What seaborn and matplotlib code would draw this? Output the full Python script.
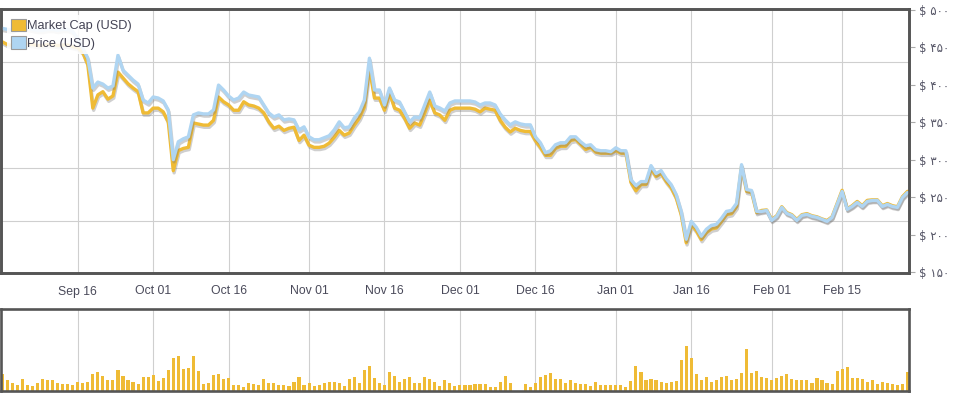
import numpy as np
import pandas as pd
import matplotlib
matplotlib.use("Agg")
import matplotlib.pyplot as plt
import matplotlib.dates as mdates
from matplotlib import patheffects as pe
from matplotlib.patches import Patch
import seaborn as sns

# ---------------- data ----------------
start_date = "2014-09-01"
n_days = 181

price_usd = [
    475.4, 474.1, 472.8, 476.8, 475.4, 475.4, 474.1, 472.8, 472.8, 474.1,
    474.1, 472.8, 474.1, 474.1, 471.4, 462.1, 448.9, 435.6, 395.7, 403.7,
    401.0, 395.7, 398.4, 439.6, 419.6, 413.0, 406.4, 401.0, 379.8, 375.8,
    383.8, 382.4, 378.5, 366.5, 300.1, 324.0, 328.0, 330.6, 359.9, 362.5,
    361.2, 361.2, 366.5, 399.7, 393.1, 385.1, 379.8, 382.4, 390.4, 386.4,
    385.1, 383.8, 373.1, 362.5, 357.2, 359.9, 353.2, 354.5, 353.2, 339.9,
    343.9, 330.6, 326.7, 326.7, 329.3, 332.0, 339.9, 350.6, 342.6, 343.9,
    355.9, 363.8, 379.8, 435.6, 393.1, 393.1, 373.1, 395.7, 379.8, 377.1,
    363.8, 350.6, 357.2, 355.9, 373.1, 390.4, 371.8, 369.1, 365.2, 375.8,
    378.5, 378.5, 378.5, 378.5, 377.1, 373.1, 375.8, 375.8, 373.1, 361.2,
    353.2, 346.6, 350.6, 347.9, 346.6, 346.6, 330.6, 322.7, 309.4, 312.0,
    320.0, 322.7, 322.7, 330.6, 330.6, 324.0, 318.7, 320.0, 313.4, 312.0,
    312.0, 310.7, 316.0, 312.0, 312.0, 273.5, 265.5, 270.8, 270.8, 292.1,
    281.5, 285.5, 274.8, 266.9, 253.6, 231.0, 193.8, 217.7, 209.7, 197.8,
    207.1, 212.4, 213.7, 221.7, 231.0, 232.3, 241.6, 293.4, 260.2, 258.9,
    231.0, 231.0, 232.3, 219.0, 224.4, 236.3, 228.3, 225.7, 219.0, 225.7,
    227.0, 224.4, 223.0, 220.4, 217.7, 223.0, 240.3, 257.6, 233.7, 237.6,
    243.0, 237.6, 244.3, 245.6, 245.6, 237.6, 240.3, 237.6, 236.3, 249.6,
    256.2,
]

market_cap_busd = [
    6.38, 6.33, 6.31, 6.36, 6.34, 6.34, 6.33, 6.31, 6.31, 6.33,
    6.33, 6.31, 6.32, 6.32, 6.29, 6.27, 6.18, 5.95, 5.13, 5.38,
    5.44, 5.30, 5.36, 5.81, 5.70, 5.59, 5.51, 5.44, 5.04, 5.04,
    5.13, 5.13, 5.06, 4.87, 3.95, 4.33, 4.37, 4.39, 4.85, 4.83,
    4.81, 4.81, 4.90, 5.34, 5.25, 5.19, 5.09, 5.09, 5.25, 5.19,
    5.17, 5.13, 5.04, 4.87, 4.75, 4.79, 4.71, 4.75, 4.77, 4.52,
    4.62, 4.43, 4.39, 4.39, 4.41, 4.47, 4.58, 4.71, 4.62, 4.66,
    4.81, 4.94, 5.15, 5.89, 5.32, 5.32, 5.09, 5.42, 5.13, 5.09,
    4.94, 4.75, 4.85, 4.81, 5.04, 5.28, 5.04, 5.00, 4.90, 5.09,
    5.13, 5.13, 5.13, 5.13, 5.11, 5.06, 5.13, 5.11, 5.09, 4.90,
    4.77, 4.68, 4.75, 4.71, 4.69, 4.69, 4.52, 4.39, 4.24, 4.24,
    4.37, 4.41, 4.41, 4.52, 4.54, 4.45, 4.35, 4.39, 4.30, 4.28,
    4.28, 4.28, 4.33, 4.28, 4.28, 3.73, 3.57, 3.69, 3.69, 3.99,
    3.84, 3.90, 3.75, 3.63, 3.44, 3.12, 2.59, 2.93, 2.82, 2.65,
    2.78, 2.85, 2.87, 2.99, 3.12, 3.14, 3.27, 4.03, 3.56, 3.54,
    3.16, 3.20, 3.21, 3.03, 3.10, 3.27, 3.16, 3.12, 3.03, 3.12,
    3.14, 3.10, 3.08, 3.04, 3.01, 3.08, 3.33, 3.58, 3.23, 3.29,
    3.37, 3.29, 3.39, 3.40, 3.40, 3.29, 3.33, 3.29, 3.27, 3.46,
    3.56,
]

volume = [
    16, 10, 7.7, 6, 11.7, 6, 5, 7.7, 11.7, 10,
    10, 7.7, 7, 6.7, 6, 8.3, 7.7, 9, 16.7, 18.3,
    14, 10.7, 10, 20, 14, 10, 8.3, 7, 13.3, 13.3,
    15, 9.3, 12.7, 20.7, 31.7, 34, 21, 22.7, 34, 19,
    6.7, 8, 15, 16.7, 11.3, 12, 6, 6, 3.3, 7.7,
    6.7, 5.7, 11.3, 7.3, 8, 5.7, 6, 4.3, 8.3, 13.3,
    6, 8, 4.3, 6, 8, 8.3, 9, 8, 4.7, 11,
    13.3, 7.3, 20, 24, 12.7, 7.3, 6, 18.3, 14, 9,
    11, 13, 7.3, 7.3, 13.3, 11.7, 8.3, 4.3, 10, 7.3,
    4.7, 6, 6, 6, 7,
    6.7, 6.7, 4, 4, 9, 14, 8, 0, 0, 7,
    4, 8, 13, 15, 17.7, 11, 11, 7.7, 10, 7.3,
    6.3, 7, 5, 9, 6, 5.7, 6, 5.3, 6, 4,
    9.7, 24.3, 18.3, 10, 11, 10.7, 9, 7.3, 8.3, 9.3,
    30, 44, 32.3, 16, 10, 13.7, 9, 10, 13.7, 14,
    10.7, 11, 17, 41, 17.3, 19, 13.7, 12, 10.7, 12.7,
    14, 16, 11.7, 10.3, 10.7, 10, 8, 12, 10, 8,
    7, 19, 21, 23.3, 12.7, 12, 11, 8.3, 10.3, 6.7,
    9, 7.7, 7, 5.3, 6.3, 18.3,
]

tick_dates = ["2014-09-16", "2014-10-01", "2014-10-16", "2014-11-01", "2014-11-16",
              "2014-12-01", "2014-12-16", "2015-01-01", "2015-01-16", "2015-02-01",
              "2015-02-15"]
tick_labels = ["Sep 16", "Oct 01", "Oct 16", "Nov 01", "Nov 16", "Dec 01",
               "Dec 16", "Jan 01", "Jan 16", "Feb 01", "Feb 15"]

price_ticks = [150, 200, 250, 300, 350, 400, 450, 500]
price_tick_labels = ["$ ۱۵۰", "$ ۲۰۰", "$ ۲۵۰", "$ ۳۰۰", "$ ۳۵۰", "$ ۴۰۰", "$ ۴۵۰", "$ ۵۰۰"]
mcap_grid = [3, 4, 5, 6]

series_names = ["Market Cap (USD)", "Price (USD)"]

# ---------------- style ----------------
sns.set_style("white")
plt.rcParams["font.family"] = ["Liberation Sans", "DejaVu Sans"]

orange = "#EFBB35"
blue = "#AFD5F2"
frame_col = "#555555"
grid_col = "#cfcfcf"
text_col = "#4a4a5a"

dates = pd.date_range(start_date, periods=n_days, freq="D")
df = pd.DataFrame({"date": dates, "price": price_usd,
                   "mcap": market_cap_busd, "volume": volume})
df["xnum"] = mdates.date2num(df["date"])

W, H = 954, 394
fig = plt.figure(figsize=(W / 100, H / 100), dpi=100)
left = 1.3 / W
right = 909 / W
ax = fig.add_axes([left, 1 - 273 / H, right - left, (273 - 9) / H])
ax2 = ax.twinx()
axb = fig.add_axes([left, 1 - 390.7 / H, right - left, (390.7 - 309) / H])

shadow = [pe.SimpleLineShadow(offset=(0.6, -1.6), shadow_color="#777777", alpha=0.35),
          pe.Normal()]

sns.lineplot(data=df, x="date", y="mcap", ax=ax, color=orange, linewidth=2.4,
             path_effects=shadow)
sns.lineplot(data=df, x="date", y="price", ax=ax2, color=blue, linewidth=2.4,
             path_effects=shadow)

x0 = mdates.date2num(pd.Timestamp(start_date)) - 0.2
x1 = mdates.date2num(pd.Timestamp(start_date)) + (n_days - 1) + 0.3
tick_x = mdates.date2num(pd.to_datetime(tick_dates))

# market cap axis (hidden labels, provides horizontal grid)
ax.set_ylim(2.02, 7.0)
ax.set_yticks(mcap_grid)
ax.tick_params(axis="y", left=False, labelleft=False, right=False)
ax.grid(axis="y", color=grid_col, linewidth=0.8)
ax.grid(axis="x", color=grid_col, linewidth=0.8)
ax.set_xlim(x0, x1)
ax.set_xticks(tick_x)
ax.set_xticklabels(tick_labels)
ax.tick_params(axis="x", length=0, pad=9, labelsize=8.8, labelcolor=text_col)
ax.set_xlabel("")
ax.set_ylabel("")

# price axis (right labels)
ax2.set_ylim(148.7, 501.3)
ax2.set_yticks(price_ticks)
ax2.set_yticklabels(price_tick_labels, family=["DejaVu Sans"])
ax2.tick_params(axis="y", right=True, length=4, width=0.8, color="#aaaaaa",
                pad=3, labelsize=8.5, labelcolor="#555566")
ax2.grid(False)
ax2.set_ylabel("")
ax2.set_xlim(x0, x1)

for a in (ax, ax2):
    for s in a.spines.values():
        s.set_color(frame_col)
        s.set_linewidth(1.9)

handles = [Patch(facecolor=orange, edgecolor="#9a9a9a", linewidth=0.8),
           Patch(facecolor=blue, edgecolor="#9a9a9a", linewidth=0.8)]
leg = ax2.legend(handles, series_names, loc="upper left",
                 bbox_to_anchor=(0.0, 1.0), frameon=True, framealpha=0.88,
                 facecolor="white", edgecolor="none", fontsize=9.2,
                 handlelength=1.15, handleheight=1.15, handletextpad=0.12,
                 borderpad=0.3, labelspacing=0.3, borderaxespad=0.45,
                 labelcolor="#444455")

# volume panel
sns.barplot(data=df, x="xnum", y="volume", ax=axb, native_scale=True,
            width=0.62, color=orange, saturation=1, errorbar=None, linewidth=0)
axb.set_xlim(x0, x1)
axb.set_ylim(0, 80)
axb.set_xticks(tick_x)
axb.set_xticklabels([])
axb.set_yticks([])
axb.tick_params(axis="x", length=0)
axb.grid(axis="x", color=grid_col, linewidth=0.8)
axb.set_axisbelow(True)
axb.set_xlabel("")
axb.set_ylabel("")
for s in axb.spines.values():
    s.set_color(frame_col)
    s.set_linewidth(1.9)

fig.savefig("out.png", dpi=100)
